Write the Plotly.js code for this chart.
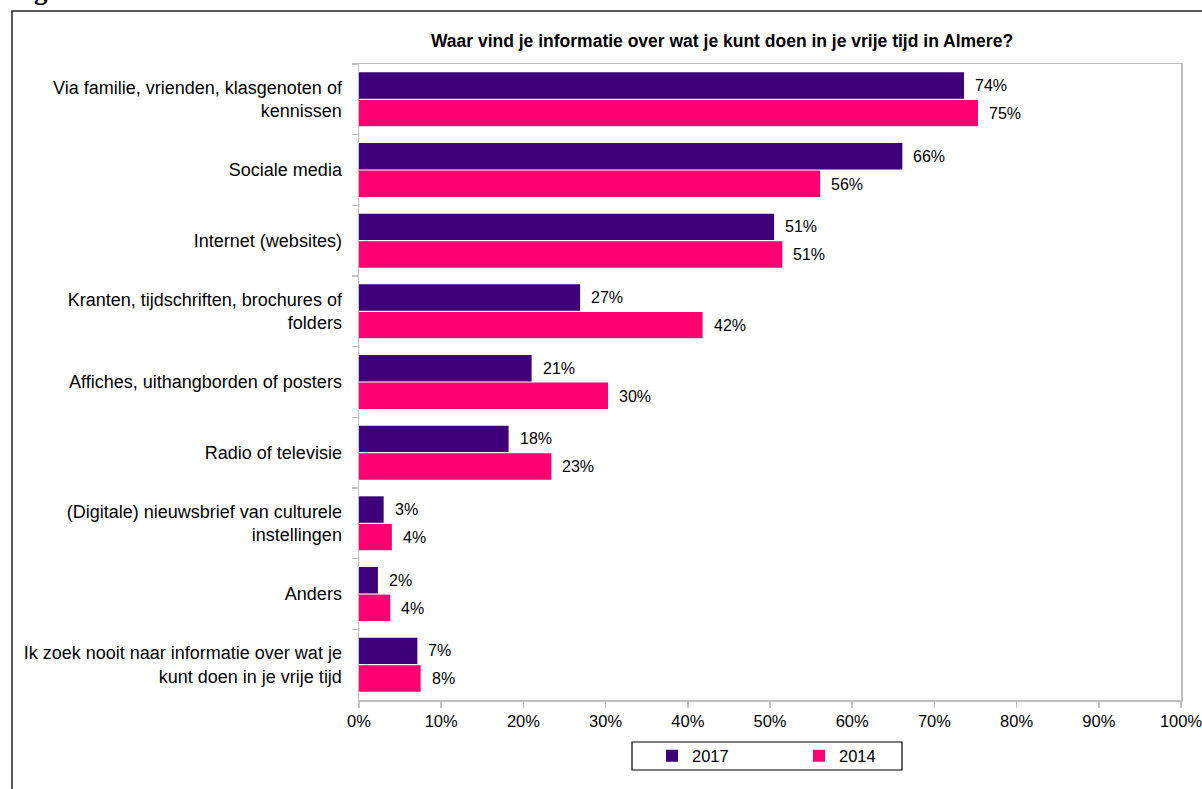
<!DOCTYPE html>
<html>
<head>
<meta charset="utf-8">
<script src="https://cdn.plot.ly/plotly-3.0.1.min.js"></script>
<style>html,body{margin:0;padding:0;background:#fff;}#chart{width:1202px;height:789px;}</style>
</head>
<body>
<div id="chart"></div>
<script>
const categories = [
  "Via familie, vrienden, klasgenoten of<br>kennissen",
  "Sociale media",
  "Internet (websites)",
  "Kranten, tijdschriften, brochures of<br>folders",
  "Affiches, uithangborden of posters",
  "Radio of televisie",
  "(Digitale) nieuwsbrief van culturele<br>instellingen",
  "Anders",
  "Ik zoek nooit naar informatie over wat je<br>kunt doen in je vrije tijd"
];
const values2017 = [73.6, 66.1, 50.5, 26.9, 21.0, 18.2, 3.0, 2.3, 7.1];
const values2014 = [75.3, 56.1, 51.5, 41.8, 30.3, 23.4, 4.0, 3.8, 7.5];
const labels2017 = ["74%", "66%", "51%", "27%", "21%", "18%", "3%", "2%", "7%"];
const labels2014 = ["75%", "56%", "51%", "42%", "30%", "23%", "4%", "4%", "8%"];
const xTicks = [0, 10, 20, 30, 40, 50, 60, 70, 80, 90, 100];
const xTickLabels = ["0%", "10%", "20%", "30%", "40%", "50%", "60%", "70%", "80%", "90%", "100%"];

const font = "Liberation Sans, Arial, sans-serif";
const W = 1202, H = 789, mL = 359, mR = 21, mT = 64, mB = 89;
const pw = W - mL - mR, ph = H - mT - mB;
const px2x = p => (p - mL) / pw;
const py2y = p => (H - mB - p) / ph;

const common = {
  type: "bar", orientation: "h", y: categories,
  textposition: "none", hoverinfo: "x+y", cliponaxis: false
};
const traces = [
  Object.assign({}, common, {name: "2017", x: values2017, marker: {color: "#3d0078", line: {width: 0}}}),
  Object.assign({}, common, {name: "2014", x: values2014, marker: {color: "#ff0072", line: {width: 0}}})
];

const annotations = [];
categories.forEach((c, i) => {
  annotations.push({x: values2017[i], y: c, xref: "x", yref: "y", text: labels2017[i], showarrow: false,
    xanchor: "left", yanchor: "middle", xshift: 9, yshift: 14, font: {family: font, size: 16, color: "#000"}});
  annotations.push({x: values2014[i], y: c, xref: "x", yref: "y", text: labels2014[i], showarrow: false,
    xanchor: "left", yanchor: "middle", xshift: 9, yshift: -14, font: {family: font, size: 16, color: "#000"}});
});
annotations.push({xref: "paper", yref: "paper", x: px2x(8), y: py2y(7), xanchor: "left", yanchor: "bottom",
  text: "<b>Figuur 2.9</b>", showarrow: false, font: {family: "Liberation Serif, Times New Roman, serif", size: 27, color: "#000"}});

const layout = {
  width: W, height: H,
  margin: {l: mL, r: mR, t: mT, b: mB, pad: 0},
  paper_bgcolor: "#fff", plot_bgcolor: "#fff",
  title: {text: "<b>Waar vind je informatie over wat je kunt doen in je vrije tijd in Almere?</b>",
    font: {family: font, size: 17.5, color: "#000"}, x: 722 / W, xanchor: "center", y: 1 - 41 / H, yanchor: "middle"},
  barmode: "group", bargap: 0.22, bargroupgap: 0.04,
  showlegend: true,
  legend: {orientation: "h", x: px2x(652), xanchor: "left", y: py2y(756), yanchor: "middle",
    borderwidth: 0, bgcolor: "rgba(0,0,0,0)", font: {family: font, size: 16.5, color: "#000"},
    entrywidth: 102, entrywidthmode: "pixels", itemwidth: 30, traceorder: "normal"},
  xaxis: {range: [0, 100], tickvals: xTicks, ticktext: xTickLabels, showgrid: false, zeroline: false,
    showline: true, linecolor: "#c0c0c0", linewidth: 1.5, mirror: true,
    ticks: "outside", ticklen: 6, tickcolor: "#c0c0c0", tickwidth: 1.5, ticklabeloverflow: "allow",
    tickfont: {family: font, size: 16.5, color: "#000"}, fixedrange: true},
  yaxis: {autorange: "reversed", type: "category", showgrid: false, zeroline: false,
    showline: true, linecolor: "#c0c0c0", linewidth: 1.5, mirror: true,
    ticks: "outside", tickson: "boundaries", ticklen: 6, tickcolor: "#c0c0c0", tickwidth: 1.5,
    tickfont: {family: font, size: 18, color: "#000"}, ticklabelstandoff: 12, fixedrange: true},
  annotations: annotations,
  shapes: [
    {type: "rect", xref: "paper", yref: "paper", x0: px2x(12), y0: py2y(820), x1: px2x(1230), y1: py2y(11),
      line: {color: "#222", width: 1.5}, fillcolor: "rgba(0,0,0,0)", layer: "below"},
    {type: "rect", xref: "paper", yref: "paper", x0: px2x(632), y0: py2y(770), x1: px2x(902), y1: py2y(742),
      line: {color: "#000", width: 1.2}, fillcolor: "rgba(0,0,0,0)", layer: "below"}
  ]
};

Plotly.newPlot("chart", traces, layout, {displayModeBar: false, staticPlot: true});
</script>
</body>
</html>
